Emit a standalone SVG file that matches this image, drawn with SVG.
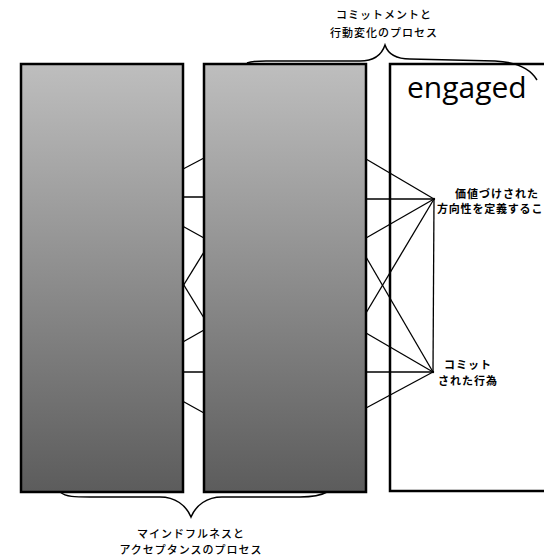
<svg xmlns="http://www.w3.org/2000/svg" width="544" height="557" viewBox="0 0 544 557">
<defs>
<linearGradient id="grad" x1="0" y1="0" x2="0" y2="1">
<stop offset="0" stop-color="#bebebe"/>
<stop offset="1" stop-color="#5c5c5c"/>
</linearGradient>
</defs>
<style>
.box{stroke:#000;stroke-width:2.5}
.grad{fill:url(#grad)}
.line{stroke:#000;stroke-width:1.3;fill:none}
.brace{stroke:#000;stroke-width:1.5;fill:none}
.jp{font-family:"Noto Sans CJK JP","DejaVu Sans",sans-serif;font-size:11px;font-weight:500;letter-spacing:1px;fill:#000;text-anchor:middle}
.bold{font-weight:bold}
.eng{font-family:"Open Sans","DejaVu Sans",sans-serif;font-size:30px;fill:#000}
</style>
<rect width="544" height="557" fill="#fff"/>
<g id="box3">
<rect class="box" x="390" y="64" width="200" height="427" fill="#fff"/>
<text class="eng" x="407" y="98">engaged</text>
</g>
<g id="connectors">
<line class="line" x1="366" y1="159" x2="434" y2="199"/>
<line class="line" x1="366" y1="199" x2="434" y2="199"/>
<line class="line" x1="366" y1="238" x2="434" y2="199"/>
<line class="line" x1="366" y1="313" x2="434" y2="199"/>
<line class="line" x1="366" y1="257" x2="433" y2="372"/>
<line class="line" x1="366" y1="333" x2="433" y2="372"/>
<line class="line" x1="366" y1="372" x2="433" y2="372"/>
<line class="line" x1="366" y1="408" x2="433" y2="372"/>
<line class="line" x1="434" y1="199" x2="433" y2="372"/>
<line class="line" x1="130" y1="197" x2="204" y2="158"/>
<line class="line" x1="130" y1="197" x2="204" y2="197"/>
<line class="line" x1="130" y1="197" x2="204" y2="238"/>
<line class="line" x1="130" y1="197" x2="204" y2="318"/>
<line class="line" x1="130" y1="372" x2="204" y2="252"/>
<line class="line" x1="130" y1="372" x2="204" y2="330"/>
<line class="line" x1="130" y1="372" x2="204" y2="372"/>
<line class="line" x1="130" y1="372" x2="204" y2="413"/>
</g>
<g id="box1">
<rect class="box grad" x="21" y="64" width="162" height="428"/>
</g>
<g id="box2">
<rect class="box grad" x="204" y="64" width="162" height="428"/>
</g>
<g id="valued-direction">
<circle cx="434" cy="199" r="1.2" fill="#000"/>
<text class="jp bold" x="497" y="198">価値づけされた</text>
<text class="jp bold" x="437" y="213" style="text-anchor:start;letter-spacing:0.8px">方向性を定義するこ</text>
</g>
<g id="committed-action">
<circle cx="433" cy="372" r="1.2" fill="#000"/>
<text class="jp bold" x="468" y="369">コミット</text>
<text class="jp bold" x="468" y="385">された行為</text>
</g>
<g id="commitment-brace">
<path class="brace" d="M247,63 C252,61 258,61 266,61 L360,61 C374,61 382,54 385,45 C388,54 396,59 410,59 L495,61 C515,62 530,68 537,80"/>
<text class="jp" x="384" y="19">コミットメントと</text>
<text class="jp" x="384" y="37">行動変化のプロセス</text>
</g>
<g id="mindfulness-brace">
<path class="brace" d="M60,492 C66,497 75,497 90,497 L160,497 C175,497 186,505 191,517 C196,505 207,497 222,497 L300,497 C312,497 320,496 327,492"/>
<text class="jp" x="191" y="538">マインドフルネスと</text>
<text class="jp" x="191" y="554">アクセプタンスのプロセス</text>
</g>
</svg>
